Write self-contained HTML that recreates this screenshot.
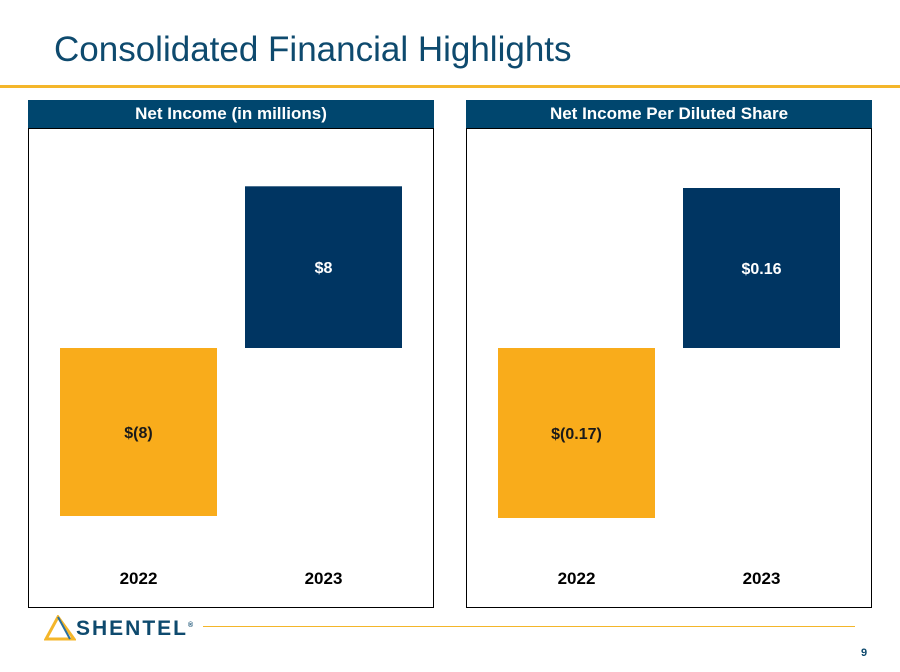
<!DOCTYPE html>
<html><head><meta charset="utf-8"><style>
body{margin:0;width:900px;height:672px;background:#fff;position:relative;overflow:hidden;font-family:"Liberation Sans",Arial,sans-serif}
.abs{position:absolute}
.hdr{background:#00466e;color:#fff;font-weight:bold;font-size:17px;text-align:center;line-height:28px;height:28px}
.box{border:1px solid #000;box-sizing:border-box;background:#fff}
</style></head><body>
<div class="abs" style="left:54px;top:30px;font-size:35px;color:#0e4a6e;">Consolidated Financial Highlights</div>
<div class="abs" style="left:0;top:85px;width:900px;height:3px;background:#f4b62a"></div>

<div class="abs hdr" style="left:28px;top:100px;width:406px">Net Income (in millions)</div>
<div class="abs box" style="left:28px;top:128px;width:406px;height:480px"></div>
<div class="abs hdr" style="left:466px;top:100px;width:406px">Net Income Per Diluted Share</div>
<div class="abs box" style="left:466px;top:128px;width:406px;height:480px"></div>

<svg class="abs" id="chart" style="left:0;top:0" width="900" height="672"></svg>

<svg class="abs" style="left:44px;top:615px" width="32" height="26">
<polygon points="14,2 2,24 30,24" fill="none" stroke="#f4b62a" stroke-width="3"/>
<line x1="14" y1="2" x2="26" y2="24" stroke="#2a6f9e" stroke-width="2"/>
</svg>
<div class="abs" style="left:76px;top:617px;font-size:21px;font-weight:bold;color:#0e4a6e;letter-spacing:2px">SHENTEL<sup style="font-size:7px">®</sup></div>
<div class="abs" style="left:203px;top:626px;width:652px;height:1px;background:#f4b62a"></div>
<div class="abs" style="left:861px;top:647px;font-size:11px;font-weight:bold;color:#0e4a6e">9</div>

<script>
const categories = ["2022","2023"];
const netIncome = [-8.0, 7.7];
const netIncomeLabels = ["$(8)","$8"];
const eps = [-0.17, 0.16];
const epsLabels = ["$(0.17)","$0.16"];
const colors = ["#f9ac1b","#003562"];
const textColors = ["#1a1a1a","#ffffff"];
const NS="http://www.w3.org/2000/svg";
const svg=document.getElementById('chart');
function panel(x0, values, labels, pxPerUnit, prefix){
  const base=348, bw=157, gap=28, start=x0+32;
  const xs=i=>start+i*(bw+gap);
  const y=v=>base - v*pxPerUnit;
  values.forEach((v,i)=>{
    const r=document.createElementNS(NS,'rect');
    
    
    const top=Math.min(y(v),base), h=Math.abs(y(v)-base);
    r.setAttribute('x',xs(i));r.setAttribute('y',top);r.setAttribute('width',bw);r.setAttribute('height',h);
    r.setAttribute('fill',colors[i]);svg.appendChild(r);
    const t=document.createElementNS(NS,'text');
    
    
    t.setAttribute('x',xs(i)+bw/2);t.setAttribute('y',top+h/2+6);
    t.setAttribute('text-anchor','middle');t.setAttribute('font-size','16');t.setAttribute('font-weight','bold');
    t.setAttribute('font-family','Liberation Sans, sans-serif');t.setAttribute('fill',textColors[i]);
    t.textContent=labels[i];svg.appendChild(t);
    const c=document.createElementNS(NS,'text');
    
    
    c.setAttribute('x',xs(i)+bw/2);c.setAttribute('y',584);
    c.setAttribute('text-anchor','middle');c.setAttribute('font-size','17');c.setAttribute('font-weight','bold');
    c.setAttribute('font-family','Liberation Sans, sans-serif');c.setAttribute('fill','#000');
    c.textContent=categories[i];svg.appendChild(c);
  });
}
panel(28, netIncome, netIncomeLabels, 21, 'net-income');
panel(466, eps, epsLabels, 1000, 'eps');
</script>
</body></html>
